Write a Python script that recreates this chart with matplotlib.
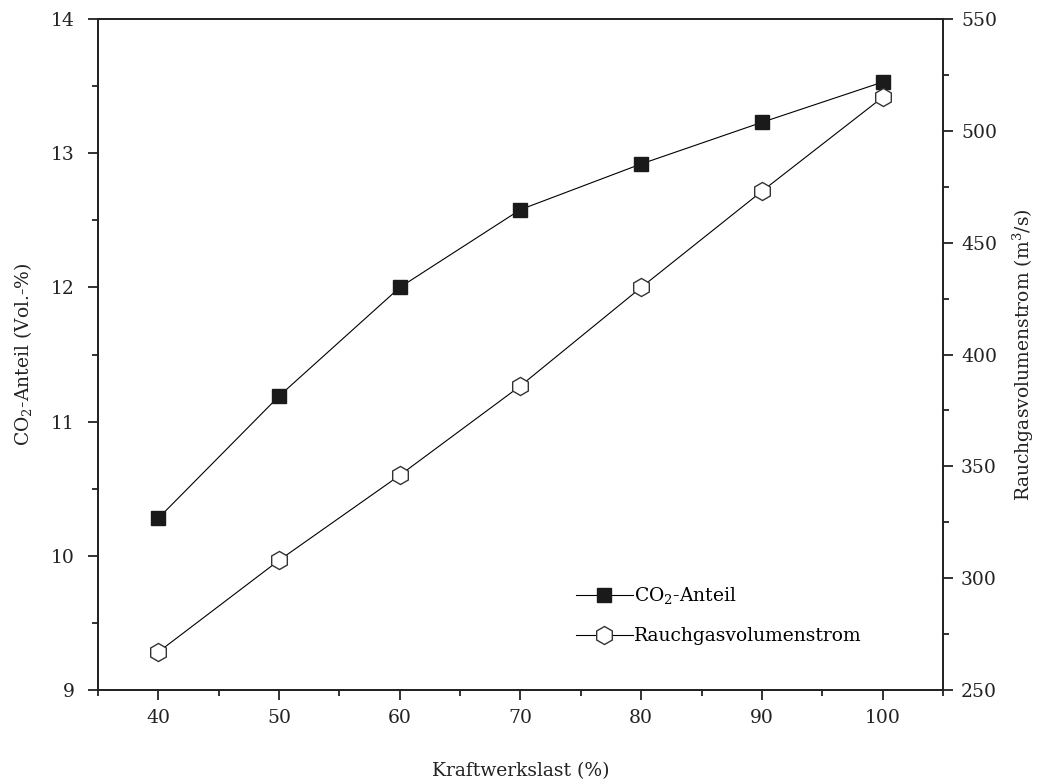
import matplotlib
matplotlib.use("Agg")
import matplotlib.pyplot as plt
from matplotlib.ticker import MultipleLocator

plt.rcParams['font.family'] = ['DejaVu Serif']
plt.rcParams['mathtext.fontset'] = 'dejavuserif'

last = [40, 50, 60, 70, 80, 90, 100]
co2_anteil = [10.28, 11.19, 12.00, 12.58, 12.92, 13.23, 13.53]
rauchgas = [267, 308, 346, 386, 430, 473, 515]

fig = plt.figure(figsize=(10.39, 7.82), dpi=100)
ax = fig.add_axes([0.0943, 0.1176, 0.8133, 0.8581])
ax2 = ax.twinx()

l1, = ax.plot(last, co2_anteil, color='black', lw=0.8, marker='s', ms=10.5,
              mfc='#1a1a1a', mec='#1a1a1a', label='CO$_2$-Anteil')
l2, = ax2.plot(last, rauchgas, color='black', lw=0.8, marker='h', ms=13,
               mfc='white', mec='#333333', mew=1.0, label='Rauchgasvolumenstrom')

ax.set_xlim(35, 105)
ax.set_ylim(9, 14)
ax2.set_ylim(250, 550)

ax.xaxis.set_major_locator(MultipleLocator(10))
ax.xaxis.set_minor_locator(MultipleLocator(5))
ax.yaxis.set_major_locator(MultipleLocator(1))
ax.yaxis.set_minor_locator(MultipleLocator(0.5))
ax2.yaxis.set_major_locator(MultipleLocator(50))
ax2.yaxis.set_minor_locator(MultipleLocator(25))

for a in (ax, ax2):
    for s in a.spines.values():
        s.set_linewidth(1.3)
        s.set_color('#222222')
    a.tick_params(which='major', direction='out', length=7, width=1.3,
                  labelsize=13.5, colors='#222222', pad=6)
    a.tick_params(which='minor', direction='out', length=4, width=1.3,
                  colors='#222222')
ax.tick_params(axis='y', which='major', pad=10)
ax.tick_params(axis='x', which='major', pad=7)

ax.set_xlabel('Kraftwerkslast (%)', fontsize=13.5, labelpad=25, color='#222222')
ax.set_ylabel('CO$_2$-Anteil (Vol.-%)', fontsize=13.5, labelpad=12, color='#222222')
ax2.set_ylabel('Rauchgasvolumenstrom (m$^3$/s)', fontsize=13.5, labelpad=10,
               color='#222222')

ax.legend(handles=[l1, l2], loc='lower left', bbox_to_anchor=(0.555, 0.053),
          frameon=False, fontsize=13.5, numpoints=1, handlelength=3,
          handletextpad=0.05, labelspacing=1.1, borderpad=0)

fig.savefig('out.png', dpi=100)
